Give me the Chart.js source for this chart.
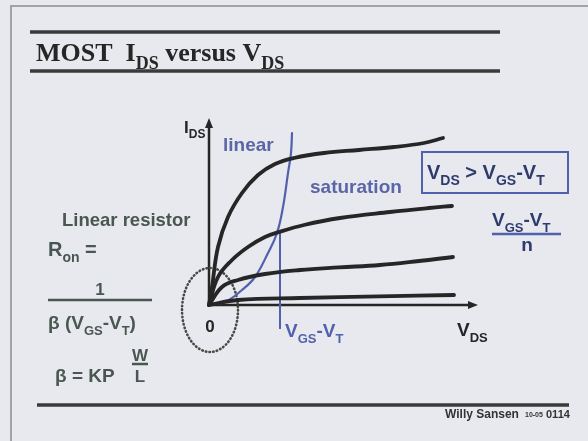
<!DOCTYPE html>
<html>
<head>
<meta charset="utf-8">
<script src="https://cdn.jsdelivr.net/npm/chart.js@4"></script>
<style>
  html, body { margin: 0; padding: 0; background: #e7e9ee; }
  canvas { display: block; }
</style>
</head>
<body>
<canvas id="ivChart" width="588" height="441"></canvas>
<script>
// I-V curves: VDS (V) against IDS (mA), one array pair per gate drive
const vdsHigh = [0, 0.06, 0.18, 0.38, 0.66, 0.98, 1.32, 1.7, 2.3, 3.0, 3.7, 4.3, 4.68];
const idsHigh = [0, 0.9, 2.9, 4.4, 5.6, 6.5, 7.05, 7.35, 7.6, 7.75, 7.9, 8.1, 8.35];

const vdsMid = [0, 0.18, 0.46, 0.78, 1.12, 1.4, 1.9, 2.62, 3.62, 4.4, 4.86];
const idsMid = [0, 1.4, 2.25, 2.9, 3.4, 3.65, 4.0, 4.35, 4.65, 4.85, 4.95];

const vdsLow = [0, 0.26, 0.58, 1.12, 1.82, 2.6, 3.42, 4.2, 4.88];
const idsLow = [0, 0.9, 1.25, 1.55, 1.75, 1.88, 2.0, 2.2, 2.4];

const vdsMin = [0, 0.58, 1.82, 3.4, 4.9];
const idsMin = [0, 0.25, 0.35, 0.43, 0.5];

// boundary between linear and saturation region (VDS = VGS - VT)
const vdsEdge = [0, 0.32, 0.66, 0.92, 1.18, 1.36, 1.48, 1.58, 1.64, 1.66];
const idsEdge = [0, 0.15, 0.75, 1.4, 2.6, 3.6, 4.9, 6.6, 7.6, 8.6];

// VGS-VT marker and axis extents
const vgsMarker = 1.42;
const markerTop = 3.65;
const markerBottom = -1.2;
const vdsAxisEnd = 5.38;
const idsAxisEnd = 9.35;

const toPoints = (xs, ys) => xs.map((x, i) => ({ x: x, y: ys[i] }));

const ink = '#262626';
const blue = '#5261ad';
const green = '#4a5650';

function curve(xs, ys, color, width) {
  return {
    data: toPoints(xs, ys),
    showLine: true,
    borderColor: color,
    borderWidth: width,
    pointRadius: 0,
    tension: 0.4,
    borderCapStyle: 'round',
    borderJoinStyle: 'round'
  };
}

// draws text with subscripts: parts = [[text, isSub], ...]
function rich(ctx, x, y, parts, size, color, family) {
  family = family || '"Liberation Sans", Arial, sans-serif';
  ctx.fillStyle = color;
  ctx.textBaseline = 'alphabetic';
  ctx.textAlign = 'left';
  let cx = x;
  parts.forEach(([t, sub]) => {
    const s = sub ? Math.round(size * 0.7) : size;
    ctx.font = 'bold ' + s + 'px ' + family;
    ctx.fillText(t, cx, sub ? y + size * 0.3 : y);
    cx += ctx.measureText(t).width;
  });
  return cx;
}

function hline(ctx, x1, x2, y, w, color) {
  ctx.strokeStyle = color;
  ctx.lineWidth = w;
  ctx.beginPath();
  ctx.moveTo(x1, y);
  ctx.lineTo(x2, y);
  ctx.stroke();
}

function centered(ctx, text, x, y, size, color) {
  ctx.font = 'bold ' + size + 'px "Liberation Sans", Arial, sans-serif';
  ctx.fillStyle = color;
  ctx.textAlign = 'center';
  ctx.fillText(text, x, y);
  ctx.textAlign = 'left';
}

const slidePlugin = {
  id: 'slide',
  beforeDraw(chart) {
    const ctx = chart.ctx;
    ctx.save();
    ctx.fillStyle = '#e7e9ee';
    ctx.fillRect(0, 0, chart.width, chart.height);

    // slide frame
    ctx.strokeStyle = '#8a8c90';
    ctx.lineWidth = 1.5;
    ctx.beginPath();
    ctx.moveTo(588, 6);
    ctx.lineTo(11, 6);
    ctx.lineTo(11, 441);
    ctx.stroke();

    // title and rules
    hline(ctx, 30, 500, 32, 3.5, '#3a3a3a');
    hline(ctx, 30, 500, 71, 3.5, '#3a3a3a');
    hline(ctx, 37, 569, 405, 3.5, '#3a3a3a');
    rich(ctx, 36, 61, [['MOST  I', 0], ['DS', 1], [' versus V', 0], ['DS', 1]], 26, ink,
      '"Liberation Serif", "Times New Roman", serif');

    // axes with arrow heads
    const xs = chart.scales.x, ys = chart.scales.y;
    const ox = xs.getPixelForValue(0), oy = ys.getPixelForValue(0);
    const xe = xs.getPixelForValue(vdsAxisEnd), ye = ys.getPixelForValue(idsAxisEnd);
    ctx.strokeStyle = ink;
    ctx.fillStyle = ink;
    ctx.lineWidth = 2.5;
    ctx.beginPath();
    ctx.moveTo(ox, oy);
    ctx.lineTo(ox, ye + 6);
    ctx.moveTo(ox, oy);
    ctx.lineTo(xe - 6, oy);
    ctx.stroke();
    ctx.beginPath();
    ctx.moveTo(ox, ye);
    ctx.lineTo(ox - 4, ye + 10);
    ctx.lineTo(ox + 4, ye + 10);
    ctx.closePath();
    ctx.fill();
    ctx.beginPath();
    ctx.moveTo(xe, oy);
    ctx.lineTo(xe - 10, oy - 4);
    ctx.lineTo(xe - 10, oy + 4);
    ctx.closePath();
    ctx.fill();

    // VGS-VT marker line
    const mx = xs.getPixelForValue(vgsMarker);
    ctx.strokeStyle = blue;
    ctx.lineWidth = 2;
    ctx.beginPath();
    ctx.moveTo(mx, ys.getPixelForValue(markerTop));
    ctx.lineTo(mx, ys.getPixelForValue(markerBottom));
    ctx.stroke();

    // dotted ellipse around the origin
    ctx.strokeStyle = '#454a45';
    ctx.lineWidth = 2.6;
    ctx.lineCap = 'round';
    ctx.setLineDash([0.5, 3.2]);
    ctx.beginPath();
    ctx.ellipse(ox + 1, oy + 5, 28, 42, 0, 0, Math.PI * 2);
    ctx.stroke();
    ctx.restore();
  },
  afterDatasetsDraw(chart) {
    const ctx = chart.ctx;
    ctx.save();

    // axis labels
    rich(ctx, 184, 133, [['I', 0], ['DS', 1]], 17, ink);
    centered(ctx, '0', 210, 332, 17, ink);
    rich(ctx, 457, 336, [['V', 0], ['DS', 1]], 19, ink);
    rich(ctx, 285, 337, [['V', 0], ['GS', 1], ['-V', 0], ['T', 1]], 19, blue);

    // region names
    rich(ctx, 223, 151, [['linear', 0]], 19, '#5a66a6');
    rich(ctx, 310, 193, [['saturation', 0]], 19, '#5a66a6');

    // saturation condition
    ctx.strokeStyle = blue;
    ctx.lineWidth = 2;
    ctx.strokeRect(422, 152, 146, 41);
    rich(ctx, 427, 179, [['V', 0], ['DS', 1], [' > V', 0], ['GS', 1], ['-V', 0], ['T', 1]], 20, '#2f3b6e');
    rich(ctx, 492, 226, [['V', 0], ['GS', 1], ['-V', 0], ['T', 1]], 19, '#2f3b6e');
    hline(ctx, 492, 561, 234, 2.5, blue);
    centered(ctx, 'n', 527, 251, 19, '#2f3b6e');

    // on-resistance in the linear region
    rich(ctx, 62, 226, [['Linear resistor', 0]], 18.5, green);
    rich(ctx, 48, 256, [['R', 0], ['on', 1], [' =', 0]], 20, green);
    centered(ctx, '1', 100, 295, 17, green);
    hline(ctx, 48, 152, 300, 2.5, green);
    rich(ctx, 48, 329, [['\u03b2 (V', 0], ['GS', 1], ['-V', 0], ['T', 1], [')', 0]], 19, green);
    rich(ctx, 55, 382, [['\u03b2 = KP', 0]], 19, green);
    centered(ctx, 'W', 140, 361, 17, green);
    hline(ctx, 132, 148, 364, 2.5, green);
    centered(ctx, 'L', 140, 382, 17, green);

    // footer
    rich(ctx, 445, 418, [['Willy Sansen', 0]], 12, '#333333');
    rich(ctx, 525, 417, [['10-05', 0]], 7, '#333333');
    rich(ctx, 546, 418, [['0114', 0]], 11, '#333333');
    ctx.restore();
  }
};

new Chart(document.getElementById('ivChart'), {
  type: 'scatter',
  data: {
    datasets: [
      curve(vdsHigh, idsHigh, ink, 3.8),
      curve(vdsMid, idsMid, ink, 3.8),
      curve(vdsLow, idsLow, ink, 3.8),
      curve(vdsMin, idsMin, ink, 3.8),
      curve(vdsEdge, idsEdge, blue, 2.2)
    ]
  },
  options: {
    responsive: false,
    animation: false,
    devicePixelRatio: 1,
    layout: { padding: 0 },
    plugins: {
      legend: { display: false },
      tooltip: { enabled: false }
    },
    scales: {
      x: { type: 'linear', display: false, min: -4.18, max: 7.58 },
      y: { type: 'linear', display: false, min: -6.8, max: 15.25 }
    }
  },
  plugins: [slidePlugin]
});
</script>
</body>
</html>
